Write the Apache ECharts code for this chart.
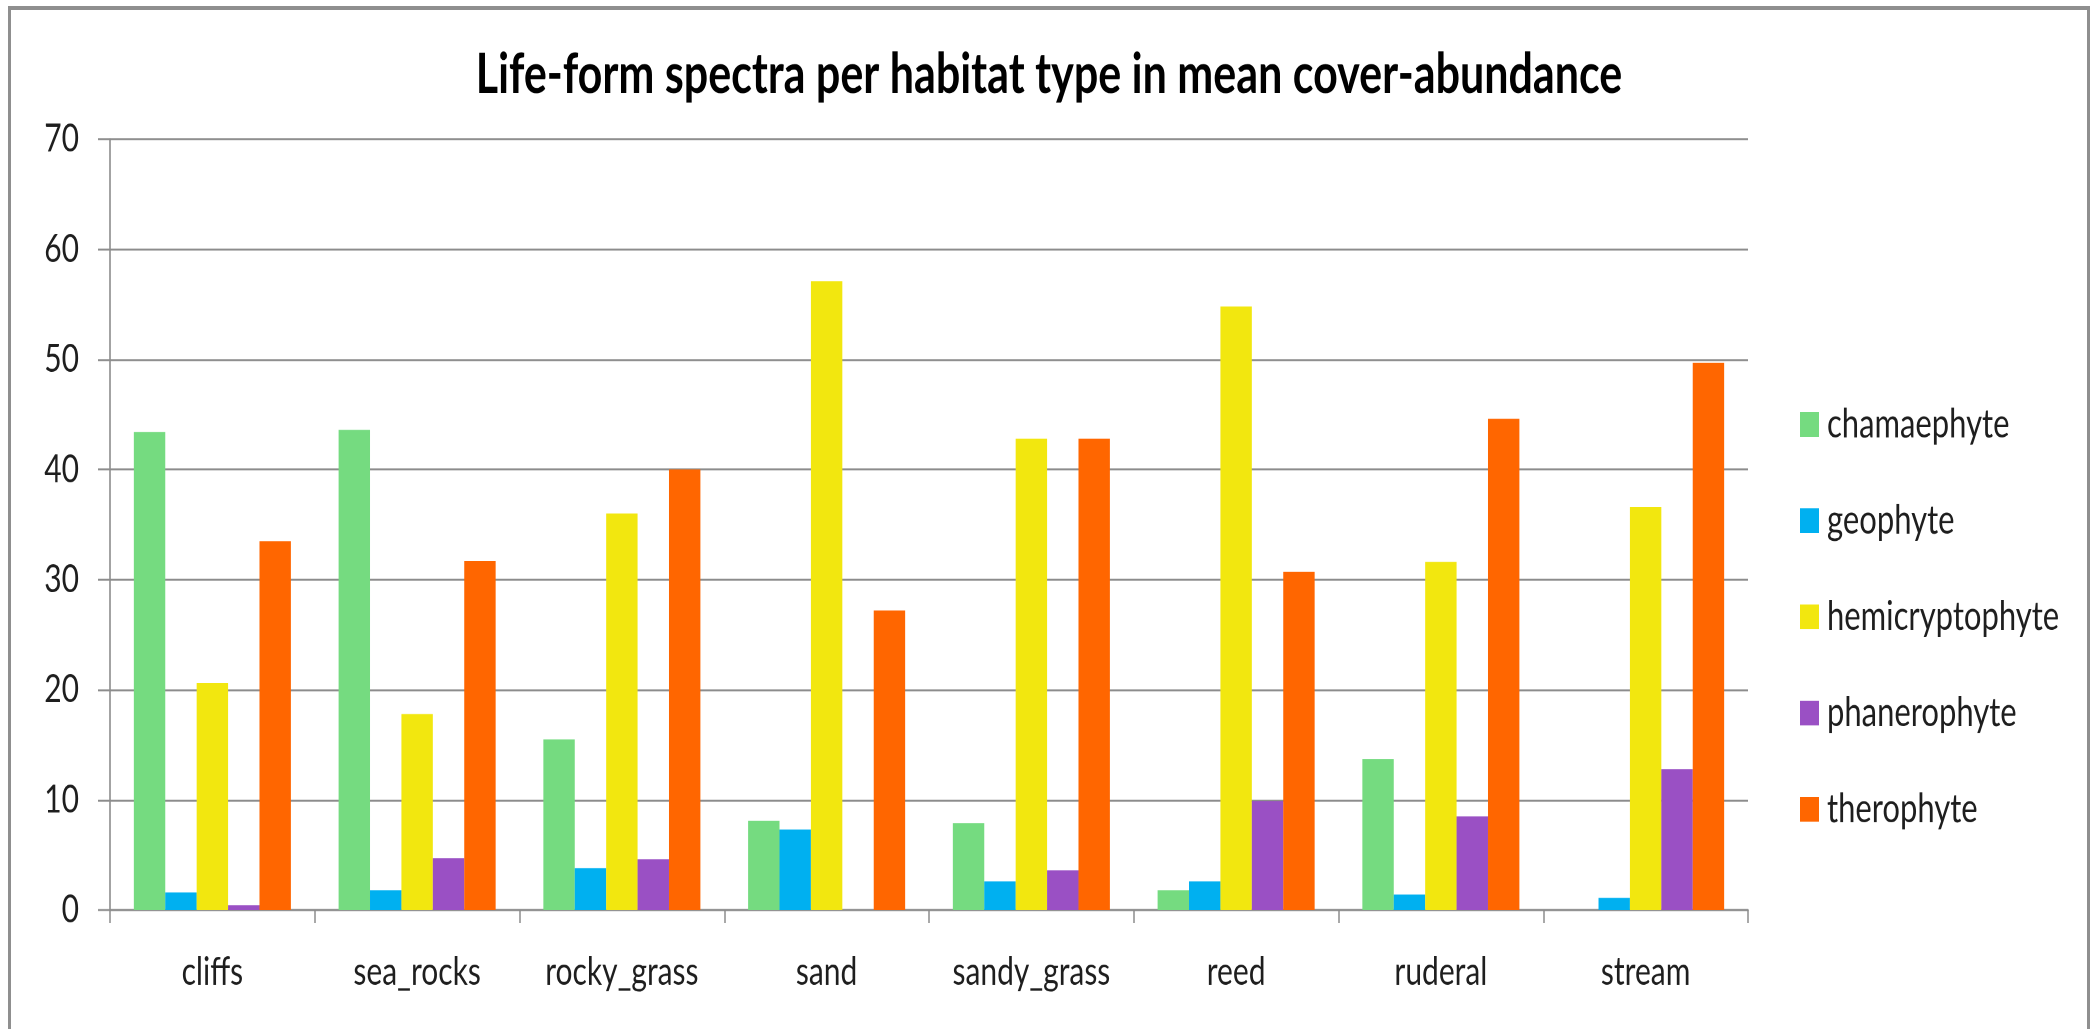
<!DOCTYPE html>
<html>
<head>
<meta charset="utf-8">
<title>Life-form spectra per habitat type</title>
<script src="https://cdn.jsdelivr.net/npm/echarts@6/dist/echarts.min.js"></script>
<style>
  html, body { margin: 0; padding: 0; background: #fff; overflow: hidden; }
  #frame {
    position: absolute; left: 8px; top: 6px; width: 2082px; height: 1100px;
    border: 3px solid #8f8f8f; border-top-width: 4px; box-sizing: border-box;
  }
  /* the chart is laid out in a shorter box and stretched vertically,
     which gives the tall, condensed lettering of the original figure */
  #chart {
    position: absolute; left: 0; top: 0; width: 2098px; height: 792px;
    transform: scaleY(1.3); transform-origin: 0 0;
  }
</style>
</head>
<body>
<div id="frame"></div>
<div id="chart"></div>
<script>
// habitat types along the x axis
const habitats = ['cliffs', 'sea_rocks', 'rocky_grass', 'sand', 'sandy_grass', 'reed', 'ruderal', 'stream'];

// mean cover-abundance of each life form per habitat
const chamaephyte     = [43.4, 43.6, 15.5, 8.1, 7.9, 1.8, 13.7, 0];
const geophyte        = [1.6, 1.8, 3.8, 7.3, 2.6, 2.6, 1.4, 1.1];
const hemicryptophyte = [20.6, 17.8, 36.0, 57.1, 42.8, 54.8, 31.6, 36.6];
const phanerophyte    = [0.45, 4.7, 4.6, 0, 3.6, 9.9, 8.5, 12.8];
const therophyte      = [33.5, 31.7, 40.0, 27.2, 42.8, 30.7, 44.6, 49.7];

const lifeForms = [
  { name: 'chamaephyte', data: chamaephyte, color: '#75DB80' },
  { name: 'geophyte', data: geophyte, color: '#00B0F0' },
  { name: 'hemicryptophyte', data: hemicryptophyte, color: '#F2E70F' },
  { name: 'phanerophyte', data: phanerophyte, color: '#9A50C4' },
  { name: 'therophyte', data: therophyte, color: '#FF6600' }
];

const chart = echarts.init(document.getElementById('chart'), null, { devicePixelRatio: 2 });

chart.setOption({
  backgroundColor: 'transparent',
  animation: false,
  title: {
    text: 'Life-form spectra per habitat type in mean cover-abundance',
    left: 'center',
    top: 36,
    padding: 0,
    textStyle: { fontFamily: 'Lato', fontWeight: 'bold', fontSize: 43, color: '#000' }
  },
  legend: {
    orient: 'vertical',
    left: 1800,
    top: 311,
    padding: 0,
    icon: 'rect',
    itemWidth: 19,
    itemHeight: 19,
    itemGap: 43,
    textStyle: { fontFamily: 'Lato', fontSize: 31, color: '#1e1e1e', lineHeight: 19, padding: [0, 0, 0, 3] },
    data: lifeForms.map(f => f.name)
  },
  grid: { left: 110, width: 1638, top: 107, height: 593, containLabel: false },
  xAxis: {
    type: 'category',
    data: habitats,
    axisLine: { show: true, lineStyle: { color: '#8c8c8c', width: 1.6 } },
    axisTick: { show: true, interval: 0, length: 10, lineStyle: { color: '#8c8c8c', width: 1.5 } },
    axisLabel: { interval: 0, margin: 33, fontFamily: 'Lato', fontSize: 30, color: '#1e1e1e' }
  },
  yAxis: {
    type: 'value',
    min: 0,
    max: 70,
    interval: 10,
    axisLine: { show: true, lineStyle: { color: '#8c8c8c', width: 1.6 } },
    axisTick: { show: true, length: 12, lineStyle: { color: '#8c8c8c', width: 1.5 } },
    axisLabel: { margin: 31, fontFamily: 'Lato', fontSize: 30, color: '#1e1e1e' },
    splitLine: { show: true, lineStyle: { color: '#8c8c8c', width: 1.5 } }
  },
  series: lifeForms.map(f => ({
    name: f.name,
    type: 'bar',
    data: f.data,
    barGap: '0%',
    barCategoryGap: '23.3%',
    itemStyle: { color: f.color }
  }))
});
</script>
</body>
</html>
